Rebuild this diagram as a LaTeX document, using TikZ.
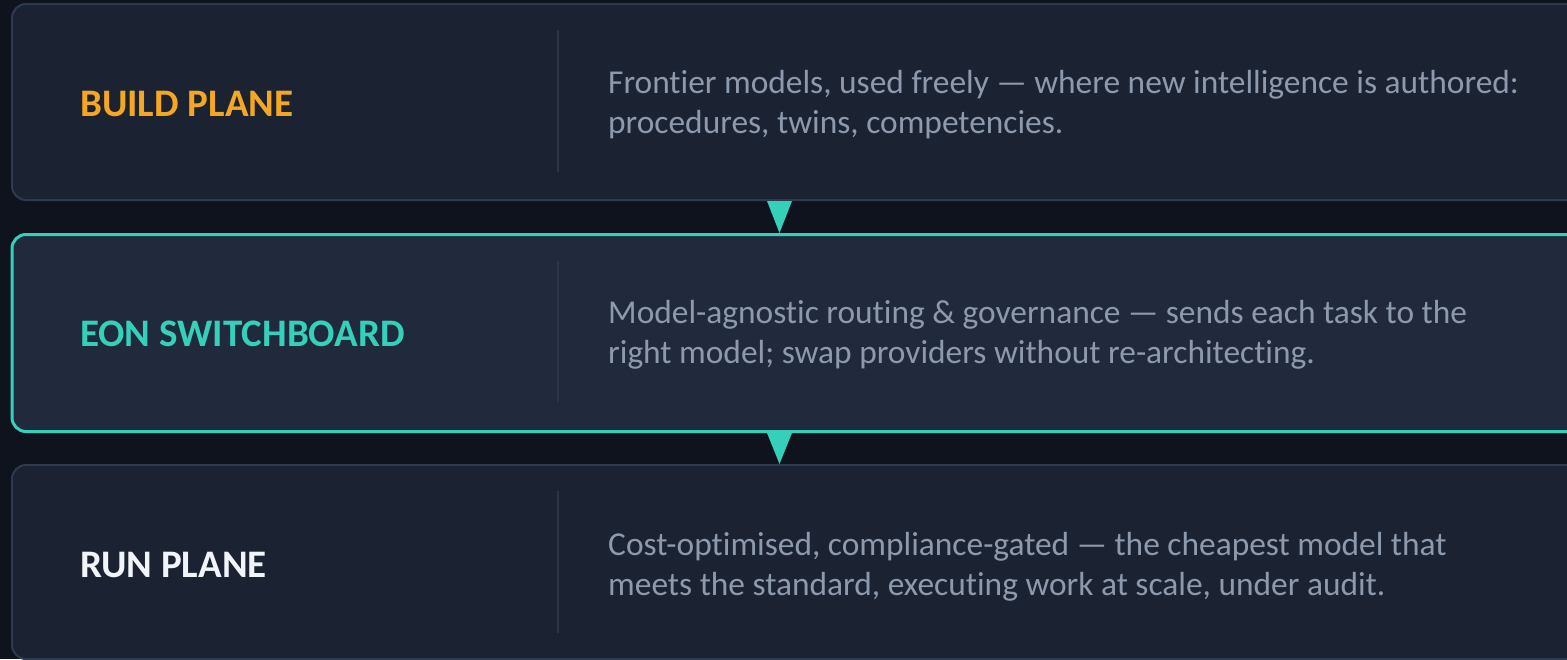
\documentclass[tikz,border=0pt]{standalone}
\usepackage{fontspec}
\setmainfont{Carlito}[Ligatures=NoCommon]
\usetikzlibrary{calc}
\definecolor{bgc}{HTML}{0E131D}
\definecolor{boxfill}{HTML}{1B2232}
\definecolor{sbfill}{HTML}{212A3C}
\definecolor{boxline}{HTML}{2D3A4F}
\definecolor{tealc}{HTML}{34D0BA}
\definecolor{orangec}{HTML}{F5A623}
\definecolor{whitec}{HTML}{F1F5F9}
\definecolor{bodyc}{HTML}{8D9AAD}
\definecolor{divc}{HTML}{2A3547}
\tikzset{
  plane/.style={rectangle, rounded corners=14pt, fill=boxfill, draw=boxline, line width=2pt,
    anchor=north west, minimum width=1620pt, inner sep=0pt},
  switchplane/.style={plane, fill=sbfill, draw=tealc, line width=3pt},
  title/.style={anchor=base west, inner sep=0pt, font=\bfseries\fontsize{39}{47}\selectfont},
  body/.style={anchor=base west, inner sep=0pt, text=bodyc, font=\fontsize{33.4}{40}\selectfont},
  divider/.style={draw=divc, line width=2pt},
  flow/.style={fill=tealc}
}
\begin{document}
\begin{tikzpicture}[x=1pt,y=-1pt]
\fill[bgc] (0,0) rectangle (1567,659);
\useasboundingbox (0,0) rectangle (1567,659);
\clip (0,0) rectangle (1567,659);
% boxes
\node[plane, minimum height=196pt] (build) at (11,3) {};
\node[switchplane, minimum height=197pt] (switch) at (10.5,233) {};
\node[plane, minimum height=194pt] (run) at (11,464) {};
% dividers
\draw[divider] (558,30) -- (558,172);
\draw[divider] (558,261) -- (558,402);
\draw[divider] (558,491) -- (558,633);
% titles
\node[title, text=orangec] (t1) at (80,116) {BUILD PLANE};
\node[title, text=tealc] (t2) at (80,346) {EON SWITCHBOARD};
\node[title, text=whitec] (t3) at (80,577) {RUN PLANE};
% bodies
\node[body] (b1) at (608,93) {\parbox[t]{950pt}{\raggedright Frontier models, used freely — where new intelligence is authored:\\procedures, twins, competencies.}};
\node[body] (b2) at (608,323) {\parbox[t]{950pt}{\raggedright Model-agnostic routing \& governance — sends each task to the\\right model; swap providers without re-architecting.}};
\node[body] (b3) at (608,555) {\parbox[t]{950pt}{\raggedright Cost-optimised, compliance-gated — the cheapest model that\\meets the standard, executing work at scale, under audit.}};
% flow arrows
\coordinate (ax) at (779.5,0);
\fill[flow] ($(build.south -| ax)+(-12.5,0)$) -- ($(build.south -| ax)+(12.5,0)$) -- (switch.north -| ax) -- cycle;
\fill[flow] ($(switch.south -| ax)+(-12.5,0)$) -- ($(switch.south -| ax)+(12.5,0)$) -- (run.north -| ax) -- cycle;
\end{tikzpicture}
\end{document}
